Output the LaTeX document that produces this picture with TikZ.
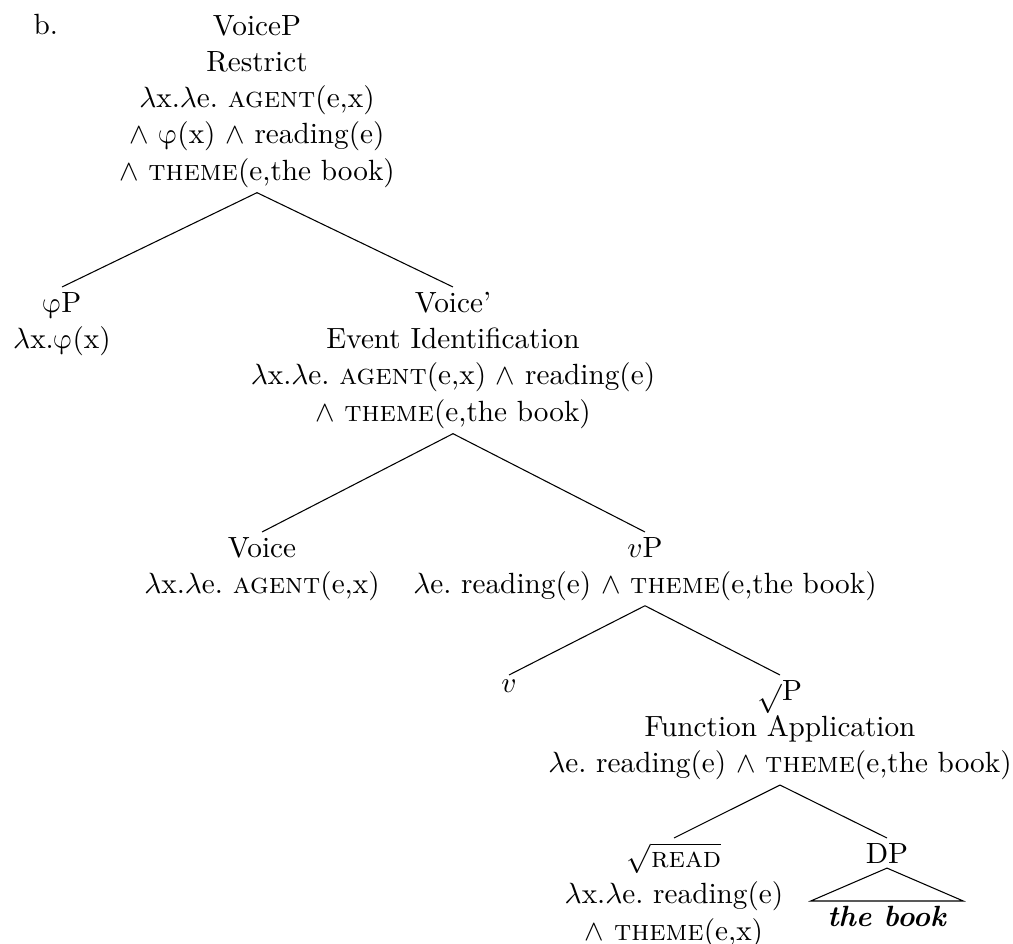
\documentclass[tikz,border=0pt]{standalone}
\usepackage{fontspec}
\newfontfamily\lmmath{latinmodern-math.otf}
\newcommand{\uphi}{{\lmmath φ}}
\begin{document}
\begin{tikzpicture}[x=0.3745pt, y=-0.3745pt,
  font=\fontsize{10.95pt}{13.6pt}\selectfont,
  tn/.style={align=center, inner sep=1.7pt, anchor=north},
  edgeline/.style={draw=black, line width=0.4pt}]
\useasboundingbox (0,0) rectangle (1013,944);
\node[anchor=base west, inner sep=0pt] (lbl) at (33,35) {b.};
\node[tn] (voicep) at (257,10) {VoiceP\\Restrict\\$\lambda$x.$\lambda$e.\ \textsc{agent}(e,x)\\$\wedge$ \uphi(x) $\wedge$ reading(e)\\$\wedge$ \textsc{theme}(e,the book)};
\node[tn] (phip) at (62,287) {\uphi P\\$\lambda$x.\uphi(x)};
\node[tn] (voicebar) at (453,287) {Voice'\\Event Identification\\$\lambda$x.$\lambda$e.\ \textsc{agent}(e,x) $\wedge$ reading(e)\\$\wedge$ \textsc{theme}(e,the book)};
\node[tn] (voice) at (262,532) {Voice\\$\lambda$x.$\lambda$e.\ \textsc{agent}(e,x)};
\node[tn] (vp) at (645,532) {$v$P\\$\lambda$e.\ reading(e) $\wedge$ \textsc{theme}(e,the book)};
\node[tn] (v) at (509,675) {$v$};
\node[tn] (rootp) at (780,675) {$\sqrt{}$P\\Function Application\\$\lambda$e.\ reading(e) $\wedge$ \textsc{theme}(e,the book)};
\node[tn] (read) at (674,838) {$\sqrt{\textsc{read}}$\\$\lambda$x.$\lambda$e.\ reading(e)\\$\wedge$ \textsc{theme}(e,x)};
\node[tn] (dp) at (887,838) {DP};
\node[tn, inner xsep=6pt] (tb) at (887,901) {\textbf{\textit{the book}}};
\draw[edgeline] (voicep.south) -- (phip.north);
\draw[edgeline] (voicep.south) -- (voicebar.north);
\draw[edgeline] (voicebar.south) -- (voice.north);
\draw[edgeline] (voicebar.south) -- (vp.north);
\draw[edgeline] (vp.south) -- (v.north);
\draw[edgeline] (vp.south) -- (rootp.north);
\draw[edgeline] (rootp.south) -- (read.north);
\draw[edgeline] (rootp.south) -- (dp.north);
\draw[edgeline] (dp.south) -- (tb.north west) -- (tb.north east) -- cycle;
\end{tikzpicture}
\end{document}
